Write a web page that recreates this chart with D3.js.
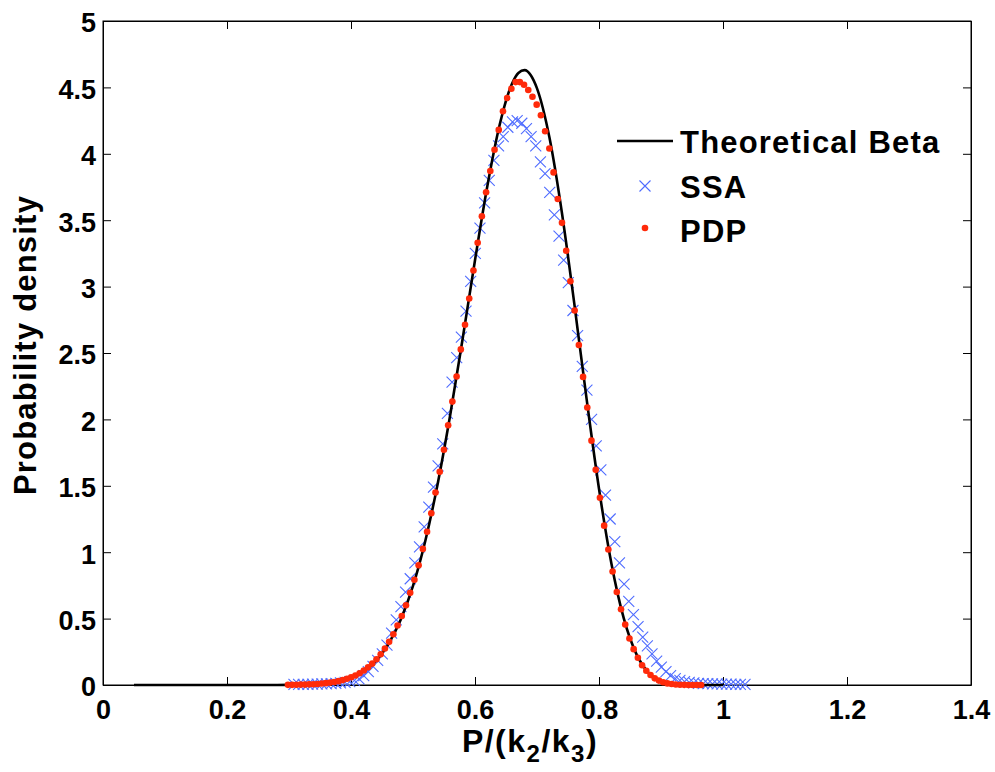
<!DOCTYPE html>
<html>
<head>
<meta charset="utf-8">
<script src="https://cdn.jsdelivr.net/npm/d3@7"></script>
<style>
  body { margin: 0; background: #fff; }
  svg text { font-family: "Liberation Sans", Arial, sans-serif; font-weight: bold; fill: #000; }
</style>
</head>
<body>
<div id="chart"></div>
<script>

// Tick values for both axes
var xTicks = [0, 0.2, 0.4, 0.6, 0.8, 1, 1.2, 1.4];
var yTicks = [0, 0.5, 1, 1.5, 2, 2.5, 3, 3.5, 4, 4.5, 5];

// Theoretical Beta curve (x, density)
var betaX = [0.05, 0.10, 0.15, 0.20, 0.25, 0.30, 0.32, 0.34, 0.36, 0.38, 0.40, 0.42, 0.44, 0.46, 0.48,
             0.50, 0.52, 0.54, 0.56, 0.58, 0.60, 0.62, 0.64, 0.66, 0.67, 0.68, 0.69, 0.70, 0.72, 0.74,
             0.76, 0.78, 0.80, 0.82, 0.84, 0.86, 0.88, 0.90, 0.92, 0.94, 0.96, 0.98, 1.00];
var betaY = [0, 0, 0, 0, 0, 0.001, 0.002, 0.006, 0.013, 0.028, 0.056, 0.103, 0.182, 0.306, 0.489,
             0.746, 1.088, 1.520, 2.033, 2.605, 3.199, 3.759, 4.223, 4.531, 4.609, 4.630, 4.592, 4.493, 4.124, 3.562,
             2.877, 2.154, 1.478, 0.915, 0.501, 0.236, 0.091, 0.027, 0.006, 0.001, 0, 0, 0];

// PDP points: evenly spaced bins starting at pdpStart
var pdpStart = 0.2983, pdpStep = 0.0068;
var pdpY = [0.001, 0.001, 0.002, 0.003, 0.003, 0.005, 0.006, 0.008, 0.011, 0.014,
            0.018, 0.023, 0.029, 0.037, 0.047, 0.058, 0.072, 0.089, 0.109, 0.133,
            0.161, 0.194, 0.231, 0.275, 0.325, 0.382, 0.448, 0.520, 0.600, 0.694,
            0.793, 0.902, 1.025, 1.154, 1.293, 1.449, 1.605, 1.772, 1.956, 2.134,
            2.323, 2.527, 2.713, 2.910, 3.121, 3.33, 3.53, 3.71, 3.87, 4.03,
            4.18, 4.32, 4.42, 4.49, 4.54, 4.54, 4.52, 4.48, 4.43, 4.37,
            4.29, 4.17, 4.04, 3.86, 3.66, 3.48, 3.27, 3.04, 2.82, 2.56,
            2.32, 2.09, 1.84, 1.62, 1.41, 1.20, 1.02, 0.855, 0.70, 0.57,
            0.455, 0.35, 0.27, 0.205, 0.149, 0.107, 0.075, 0.050, 0.033, 0.021,
            0.012, 0.007, 0.004, 0.002, 0.001, 0, 0, 0, 0];

// SSA histogram points: evenly spaced bins starting at ssaStart
var ssaStart = 0.308, ssaStep = 0.0075;
var ssaY = [0.004, 0.004, 0.005, 0.005, 0.006, 0.006, 0.008, 0.009, 0.011, 0.013,
            0.016, 0.020, 0.026, 0.034, 0.046, 0.07, 0.10, 0.14, 0.185, 0.235,
            0.30, 0.39, 0.49, 0.59, 0.70, 0.80, 0.92, 1.04, 1.19, 1.34,
            1.49, 1.65, 1.815, 2.045, 2.28, 2.465, 2.62, 2.815, 3.04, 3.25,
            3.44, 3.63, 3.80, 3.95, 4.06, 4.13, 4.20, 4.24, 4.25, 4.23,
            4.19, 4.13, 4.06, 3.94, 3.85, 3.71, 3.54, 3.38, 3.20, 3.03,
            2.82, 2.63, 2.40, 2.22, 2.00, 1.80, 1.62, 1.43, 1.25, 1.08,
            0.92, 0.76, 0.63, 0.53, 0.44, 0.36, 0.295, 0.235, 0.18, 0.135,
            0.10, 0.07, 0.048, 0.035, 0.025, 0.02, 0.016, 0.013, 0.011, 0.01,
            0.009, 0.008, 0.007, 0.006, 0.006, 0.005, 0.005, 0.004];

var legendNames = ['Theoretical Beta', 'SSA', 'PDP'];

// Set margin parameters
var margin = {top: 21, right: 24, bottom: 87, left: 103},
    width = 995 - margin.left - margin.right,
    height = 772 - margin.top - margin.bottom;

var x = d3.scaleLinear().domain([0, 1.4]).range([0, width]);
var y = d3.scaleLinear().domain([0, 5]).range([height, 0]);

var svg = d3.select('#chart')
    .append('svg')
    .attr('width', 995)
    .attr('height', 772)
    .append('g')
    .attr('transform', 'translate(' + margin.left + ',' + margin.top + ')');

// Axes, ticks pointing inwards like MATLAB
svg.append('g')
    .attr('class', 'x axis')
    .attr('transform', 'translate(0,' + height + ')')
    .call(d3.axisBottom(x).tickValues(xTicks).tickSize(-8).tickSizeOuter(0).tickPadding(15)
        .tickFormat(d3.format('')));

svg.append('g')
    .attr('class', 'y axis')
    .call(d3.axisLeft(y).tickValues(yTicks).tickSize(-8).tickSizeOuter(0).tickPadding(7)
        .tickFormat(d3.format('')));

// mirrored ticks on top and right
svg.append('g')
    .attr('class', 'x2 axis')
    .call(d3.axisTop(x).tickValues(xTicks).tickSize(-8).tickSizeOuter(0).tickFormat(''));

svg.append('g')
    .attr('class', 'y2 axis')
    .attr('transform', 'translate(' + width + ',0)')
    .call(d3.axisRight(y).tickValues(yTicks).tickSize(-8).tickSizeOuter(0).tickFormat(''));

svg.selectAll('.axis path').attr('stroke', '#000');
svg.selectAll('.axis line').attr('stroke', '#000');
svg.selectAll('.axis text')
    .style('font-size', '27px')
    .style('font-family', '"Liberation Sans", Arial, sans-serif')
    .style('font-weight', 'bold')
    .attr('fill', '#000');
svg.selectAll('.y.axis text').attr('dy', '0.4em');

// Box
svg.append('rect')
    .attr('width', width)
    .attr('height', height)
    .attr('fill', 'none')
    .attr('stroke', '#000')
    .attr('stroke-width', 1);

// Axis labels
svg.append('text')
    .attr('transform', 'rotate(-90)')
    .attr('x', -height / 2 + 8)
    .attr('y', -67)
    .style('text-anchor', 'middle')
    .style('font-size', '31px')
    .style('letter-spacing', '1.2px')
    .text('Probability density');

var xLabel = svg.append('text')
    .attr('x', width / 2 - 7)
    .attr('y', height + 67)
    .style('text-anchor', 'middle')
    .style('font-size', '32px')
    .style('letter-spacing', '1.5px');
xLabel.append('tspan').text('P/(k');
xLabel.append('tspan').attr('dy', 10).style('font-size', '24px').text('2');
xLabel.append('tspan').attr('dy', -10).text('/k');
xLabel.append('tspan').attr('dy', 10).style('font-size', '24px').text('3');
xLabel.append('tspan').attr('dy', -10).text(')');

// SSA crosses
var ssaData = ssaY.map(function(v, i) { return {x: ssaStart + i * ssaStep, y: v}; });
var crossPath = 'M-5.5,-5.5L5.5,5.5M-5.5,5.5L5.5,-5.5';
svg.append('g').selectAll('path')
    .data(ssaData)
    .enter().append('path')
    .attr('transform', function(d) { return 'translate(' + x(d.x) + ',' + y(d.y) + ')'; })
    .attr('d', crossPath)
    .attr('fill', 'none')
    .attr('stroke', '#4f6cff')
    .attr('stroke-width', 1.1);

// Theoretical Beta line
var betaData = betaX.map(function(v, i) { return {x: v, y: betaY[i]}; });
var line = d3.line()
    .curve(d3.curveMonotoneX)
    .x(function(d) { return x(d.x); })
    .y(function(d) { return y(d.y); });

svg.append('path')
    .datum(betaData)
    .attr('fill', 'none')
    .attr('stroke', '#000')
    .attr('stroke-width', 2.6)
    .attr('d', line);

// PDP dots
var pdpData = pdpY.map(function(v, i) { return {x: pdpStart + i * pdpStep, y: v}; });
svg.append('g').selectAll('circle')
    .data(pdpData)
    .enter().append('circle')
    .attr('cx', function(d) { return x(d.x); })
    .attr('cy', function(d) { return y(d.y); })
    .attr('r', 3.3)
    .attr('fill', '#ff2a0a');

// Legend (no box)
var legend = svg.append('g').attr('transform', 'translate(' + (617 - margin.left) + ',' + (141 - margin.top) + ')');
legend.append('line')
    .attr('x1', 0).attr('x2', 56)
    .attr('y1', 0).attr('y2', 0)
    .attr('stroke', '#000').attr('stroke-width', 2.6);
legend.append('path')
    .attr('transform', 'translate(28,45)')
    .attr('d', crossPath)
    .attr('fill', 'none')
    .attr('stroke', '#4f6cff')
    .attr('stroke-width', 1.1);
legend.append('circle')
    .attr('cx', 28).attr('cy', 87).attr('r', 3.3)
    .attr('fill', '#ff2a0a');
legend.selectAll('text.lab')
    .data(legendNames)
    .enter().append('text')
    .attr('class', 'lab')
    .attr('x', 63)
    .attr('y', function(d, i) { return 12 + i * 44.5; })
    .style('font-size', '31px')
    .style('letter-spacing', '1.2px')
    .text(function(d) { return d; });

</script>
</body>
</html>
